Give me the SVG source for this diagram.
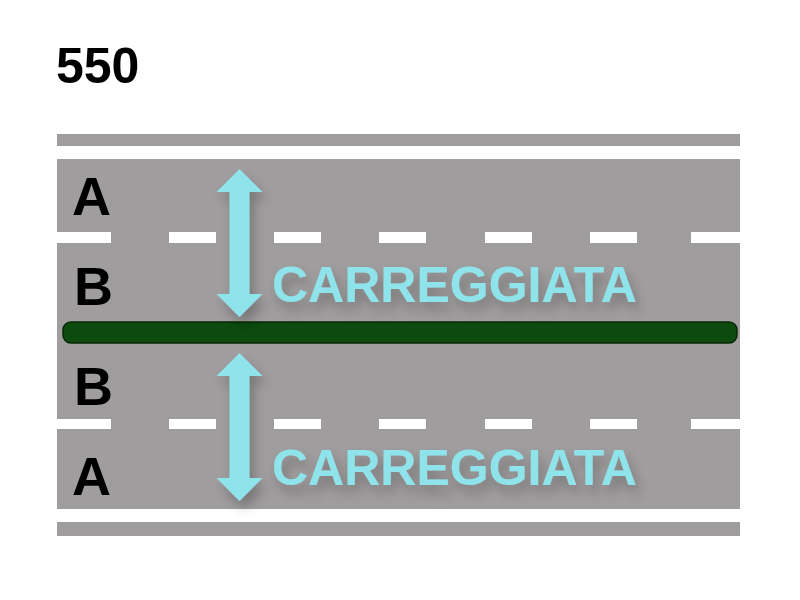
<svg xmlns="http://www.w3.org/2000/svg" width="800" height="600" viewBox="0 0 800 600">
<defs>
<filter id="sh" x="-30%" y="-30%" width="160%" height="160%">
<feGaussianBlur in="SourceAlpha" stdDeviation="6"/>
<feOffset dx="4" dy="8" result="b"/>
<feComponentTransfer><feFuncA type="linear" slope="0.25"/></feComponentTransfer>
<feMerge><feMergeNode/><feMergeNode in="SourceGraphic"/></feMerge>
</filter>
<path id="arr" d="M0,0 L23,23 L10,23 L10,125 L23,125 L0,148 L-23,125 L-10,125 L-10,23 L-23,23 Z"/>
</defs>
<style>
.road{fill:#a09d9e}
.dash{fill:#ffffff}
.lbl{font-family:"Liberation Sans",Arial,sans-serif;font-weight:bold;font-size:54px;fill:#000}
.car{font-family:"Liberation Sans",Arial,sans-serif;font-weight:bold;font-size:50px;fill:#8fe3ea}
.arrow{fill:#8fe3ea}
</style>
<rect width="800" height="600" fill="#fff"/>
<text x="56" y="83" font-family="Liberation Sans, Arial, sans-serif" font-weight="bold" font-size="50">550</text>
<g id="road">
<rect class="road" x="57" y="134" width="683" height="12"/>
<rect class="road" x="57" y="159" width="683" height="350"/>
<rect class="road" x="57" y="522" width="683" height="14"/>
</g>
<g id="dashes-top">
<rect class="dash" x="57" y="232" width="54" height="11"/>
<rect class="dash" x="169" y="232" width="47" height="11"/>
<rect class="dash" x="274" y="232" width="47" height="11"/>
<rect class="dash" x="379" y="232" width="47" height="11"/>
<rect class="dash" x="485" y="232" width="47" height="11"/>
<rect class="dash" x="590" y="232" width="47" height="11"/>
<rect class="dash" x="691" y="232" width="49" height="11"/>
</g>
<g id="dashes-bottom">
<rect class="dash" x="57" y="419" width="54" height="10"/>
<rect class="dash" x="169" y="419" width="47" height="10"/>
<rect class="dash" x="274" y="419" width="47" height="10"/>
<rect class="dash" x="379" y="419" width="47" height="10"/>
<rect class="dash" x="485" y="419" width="47" height="10"/>
<rect class="dash" x="590" y="419" width="47" height="10"/>
<rect class="dash" x="691" y="419" width="49" height="10"/>
</g>
<g id="median">
<rect x="63" y="322" width="674" height="21" rx="8" fill="#0c4a0e" stroke="#062806" stroke-width="1.5"/>
</g>
<g id="labels">
<text class="lbl" x="72" y="215">A</text>
<text class="lbl" x="74" y="305">B</text>
<text class="lbl" x="74" y="405">B</text>
<text class="lbl" x="72" y="495">A</text>
</g>
<g id="upper" filter="url(#sh)">
<use href="#arr" class="arrow" transform="translate(239.5,169)"/>
<text class="car" x="272" y="302">CARREGGIATA</text>
</g>
<g id="lower" filter="url(#sh)">
<use href="#arr" class="arrow" transform="translate(239.5,353)"/>
<text class="car" x="272" y="485">CARREGGIATA</text>
</g>
</svg>
